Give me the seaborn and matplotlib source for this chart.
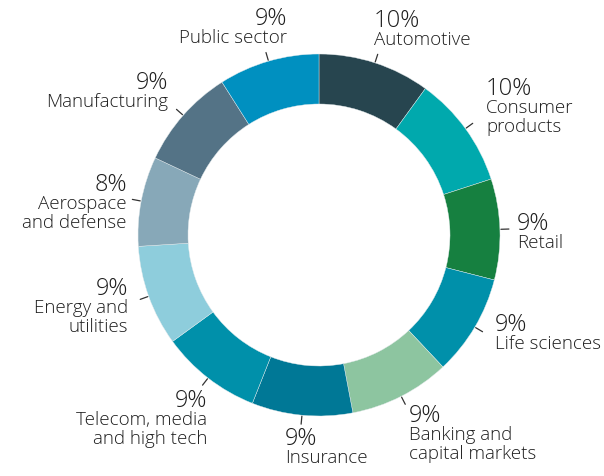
import matplotlib
matplotlib.use("Agg")
import matplotlib.pyplot as plt
import numpy as np
import seaborn as sns

# Share of work by industry (percent), clockwise from the top
industries = ["Automotive", "Consumer\nproducts", "Retail", "Life sciences",
              "Banking and\ncapital markets", "Insurance", "Telecom, media\nand high tech",
              "Energy and\nutilities", "Aerospace\nand defense", "Manufacturing", "Public sector"]
shares = [10, 10, 9, 9, 9, 9, 9, 9, 8, 9, 9]
segment_colors = ["#27454F", "#00A9AD", "#168040", "#0090AA", "#8DC5A0", "#007896",
                  "#0090AA", "#8ECDDC", "#87A8B8", "#547386", "#0090C0"]

# Label placement in pixel coordinates (x, top of percent line, alignment)
label_layout = [(374, 10, "left"), (486, 78, "left"), (517, 213, "left"),
                (495, 314, "left"), (409, 405, "left"), (285, 428, "left"),
                (207, 390, "right"), (128, 278, "right"), (127, 174, "right"),
                (168, 72, "right"), (287, 8, "right")]

sns.set_theme(style="white")
plt.rcParams["font.family"] = ["Open Sans", "DejaVu Sans"]

W, H = 604, 476
fig = plt.figure(figsize=(W / 100, H / 100), dpi=100)
ax = fig.add_axes([0, 0, 1, 1])

cx, cy = 319, H - 235
r_out, ring = 181, 50

palette = sns.color_palette(segment_colors)
wedges, _ = ax.pie(shares, colors=palette, startangle=90, counterclock=False,
                   center=(cx, cy), radius=r_out, frame=True,
                   wedgeprops=dict(width=ring, linewidth=0.3, edgecolor="#e3eaec"))
ax.set_xlim(0, W)
ax.set_ylim(0, H)
ax.set_aspect("equal")
ax.axis("off")

text_color = "#1e1e1e"
for w, name, share, (lx, ly, ha) in zip(wedges, industries, shares, label_layout):
    mid = np.deg2rad((w.theta1 + w.theta2) / 2)
    ax.plot([cx + (r_out + 1) * np.cos(mid), cx + (r_out + 9) * np.cos(mid)],
            [cy + (r_out + 1) * np.sin(mid), cy + (r_out + 9) * np.sin(mid)],
            color="#333333", lw=0.9)
    ax.text(lx, H - ly + 1, f"{share}%", ha=ha, va="top", fontsize=17,
            fontweight="light", color=text_color)
    ax.text(lx, H - ly - 21, name, ha=ha, va="top", fontsize=13.5,
            fontweight="light", color=text_color, linespacing=1.1)

fig.savefig("out.png", dpi=100)
